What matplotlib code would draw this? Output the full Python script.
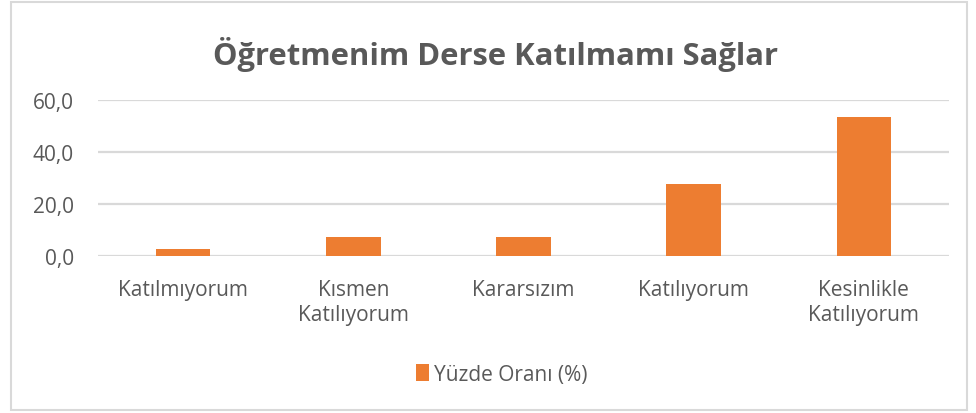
import matplotlib
matplotlib.use("Agg")
import matplotlib.pyplot as plt
from matplotlib.patches import Rectangle

# data
categories = ["Katılmıyorum", "Kısmen\nKatılıyorum", "Kararsızım", "Katılıyorum", "Kesinlikle\nKatılıyorum"]
values = [2.9, 7.4, 7.4, 27.7, 53.6]
yticks = [0, 20, 40, 60]
series_name = "Yüzde Oranı (%)"
title = "Öğretmenim Derse Katılmamı Sağlar"

BAR = "#ed7d31"
TXT = "#595959"
GRID = "#d9d9d9"

plt.rcParams["font.family"] = ["Open Sans", "DejaVu Sans"]

fig = plt.figure(figsize=(9.76, 4.14), dpi=100)
fig.patches.append(Rectangle((0.011, 0.008), 0.98, 0.985, transform=fig.transFigure,
                             fill=False, edgecolor=GRID, linewidth=1.5))

ax = fig.add_axes([0.1004, 0.3785, 0.8719, 0.3776])
x = range(len(categories))
ax.bar(x, values, width=0.32, color=BAR, label=series_name, zorder=3)

ax.set_xlim(-0.5, len(categories) - 0.5)
ax.set_ylim(0, 60)
ax.set_yticks(yticks)
ax.set_yticklabels([f"{v:.1f}".replace(".", ",") for v in yticks])
ax.set_xticks(list(x))
ax.set_xticklabels(categories, linespacing=1.3)
ax.tick_params(axis="both", length=0, colors=TXT, labelsize=15)
ax.tick_params(axis="x", pad=16)
ax.tick_params(axis="y", pad=17.5)
ax.grid(axis="y", color=GRID, linewidth=1.6, zorder=0)
for s in ax.spines.values():
    s.set_visible(False)

fig.text(0.508, 0.843, title, ha="center", va="baseline", fontsize=22.3,
         fontweight="bold", color=TXT)

fig.legend(loc="center", bbox_to_anchor=(0.514, 0.093), frameon=False, fontsize=15,
           labelcolor=TXT, handlelength=0.65, handleheight=0.85, handletextpad=0.25)

fig.savefig("out.png", dpi=100, facecolor="white")
